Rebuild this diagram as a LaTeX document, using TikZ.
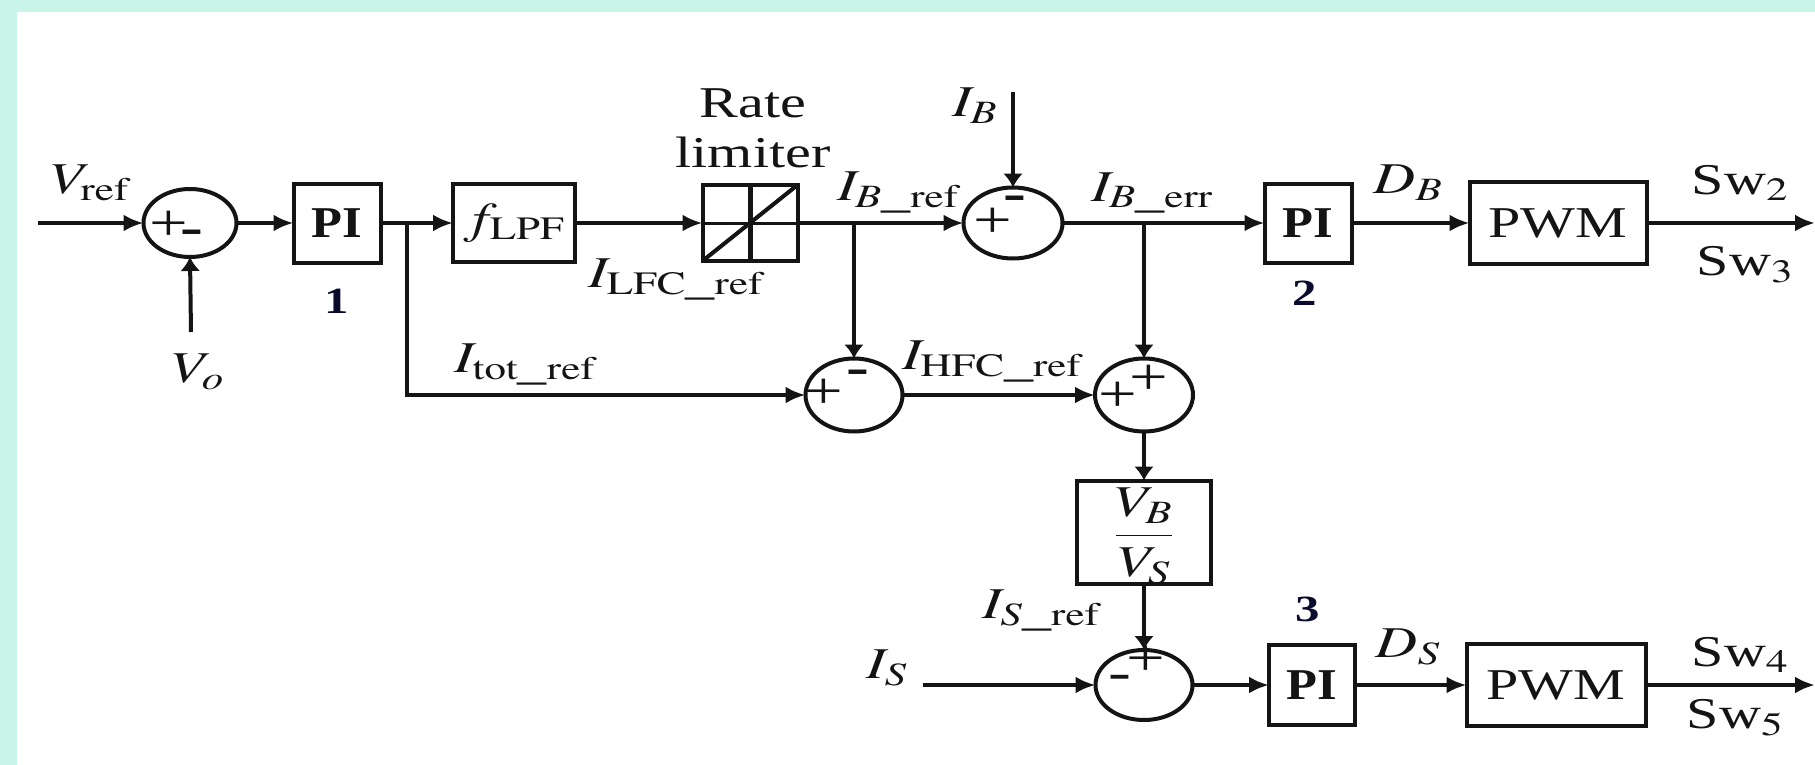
\documentclass[tikz,border=0pt]{standalone}
\usepackage{mathptmx}
\usepackage[no-math]{fontspec}
\setmainfont{Liberation Serif}
\usepackage{graphicx}
\usetikzlibrary{shapes.geometric,arrows.meta}
\definecolor{bgcyan}{RGB}{200,245,232}
\definecolor{ink}{RGB}{20,20,20}
\definecolor{numink}{RGB}{10,10,45}
\newcommand\hs[1]{\scalebox{1.32}[1]{#1}}
\newcommand\hb[1]{\scalebox{1.15}[1]{#1}}
\begin{document}
\begin{tikzpicture}[x=1pt,y=-1pt,
  every node/.style={inner sep=0pt,outer sep=0pt},
  big/.style={font=\fontsize{44}{50}\selectfont},
  lbl/.style={big,text=ink},
  numlbl/.style={font=\fontsize{37}{40}\selectfont\bfseries,text=numink},
  sgn/.style={font=\fontsize{52}{56}\selectfont,text=ink},
  sumnode/.style={ellipse,draw=ink,line width=4pt,fill=white},
  blk/.style={rectangle,draw=ink,line width=4pt,fill=white,big,text=ink},
  conn/.style={draw=ink,line width=4pt},
  harrow/.style={conn,-{Latex[length=20pt,width=17pt]}},
  varrow/.style={conn,-{Latex[length=14pt,width=20pt]}}
]
\useasboundingbox (0,0) rectangle (1815,765);
\fill[white] (0,0) rectangle (1815,765);
\fill[bgcyan] (0,0) rectangle (1815,12);
\fill[bgcyan] (0,0) rectangle (17,765);

% blocks
\node[sumnode,minimum width=93pt,minimum height=68pt] (sum1) at (190,223) {};
\node[blk,minimum width=87pt,minimum height=79pt] (pi1) at (337,223) {\hb{\bfseries PI}};
\node[blk,minimum width=122pt,minimum height=78pt] (lpf) at (514,223) {\hs{$f_{\mathrm{LPF}}$}};
\node[blk,minimum width=95pt,minimum height=76pt] (rate) at (750,223) {};
\node[sumnode,minimum width=99pt,minimum height=71pt] (sum2) at (1013,223) {};
\node[blk,minimum width=87pt,minimum height=79pt] (pi2) at (1308,223) {\hb{\bfseries PI}};
\node[blk,minimum width=177pt,minimum height=82pt] (pwm1) at (1558,223) {\hs{PWM}};
\node[sumnode,minimum width=97pt,minimum height=73pt] (sum3) at (854,395) {};
\node[sumnode,minimum width=98pt,minimum height=73pt] (sum4) at (1144,395) {};
\node[blk,minimum width=134pt,minimum height=103pt] (gain) at (1144,532) {};
\node[lbl] (gaintxt) at (1144,536) {\hs{$\displaystyle\frac{V_B}{V_S}$}};
\node[sumnode,minimum width=97pt,minimum height=70pt] (sum5) at (1144,685) {};
\node[blk,minimum width=86pt,minimum height=80pt] (pi3) at (1312,685) {\hb{\bfseries PI}};
\node[blk,minimum width=179pt,minimum height=82pt] (pwm2) at (1556,685) {\hs{PWM}};

% rate limiter symbol
\draw[ink,line width=3pt] (rate.west) -- (rate.east);
\draw[ink,line width=5pt] (rate.north) -- (rate.south);
\draw[ink,line width=4pt] (rate.south west) -- (rate.north east);

% signs in summing junctions
\node[sgn] (s1p) at (169,226) {\hs{+}};
\node[sgn] (s1m) at (192,237) {\hs{\bfseries -}};
\node[sgn] (s2p) at (993,223) {\hs{+}};
\node[sgn] (s2m) at (1015,203) {\hs{\bfseries -}};
\node[sgn] (s3p) at (824,394) {\hs{+}};
\node[sgn] (s3m) at (858,377) {\hs{\bfseries -}};
\node[sgn] (s4p) at (1118,397) {\hs{+}};
\node[sgn] (s4q) at (1149,380) {\hs{+}};
\node[sgn] (s5p) at (1146,661) {\hs{+}};
\node[sgn] (s5m) at (1120,682) {\hs{-}};

% free ends and branch points
\coordinate (inV) at (38,223);
\coordinate (inVo) at (191,332);
\coordinate (inIB) at (1013,92);
\coordinate (inIS) at (923,685);
\coordinate (out1) at (1815,223);
\coordinate (out2) at (1815,685);
\coordinate (b1) at (407,223);
\coordinate (b1d) at (407,395);
\coordinate (b2) at (854,223);
\coordinate (b3) at (1144,223);

% connectors
\draw[harrow] (inV) -- (sum1.west);
\draw[varrow] (inVo) -- (sum1.south);
\draw[harrow] (sum1.east) -- (pi1.west);
\draw[harrow] (pi1.east) -- (lpf.west);
\draw[harrow] (b1) -- (b1d) -- (sum3.west);
\draw[harrow] (lpf.east) -- (rate.west);
\draw[harrow] (rate.east) -- (sum2.west);
\draw[varrow] (b2) -- (sum3.north);
\draw[varrow] (inIB) -- (sum2.north);
\draw[harrow] (sum2.east) -- (pi2.west);
\draw[varrow] (b3) -- (sum4.north);
\draw[harrow] (sum3.east) -- (sum4.west);
\draw[harrow] (pi2.east) -- (pwm1.west);
\draw[harrow] (pwm1.east) -- (out1);
\draw[varrow] (sum4.south) -- (gain.north);
\draw[varrow] (gain.south) -- (sum5.north);
\draw[harrow] (inIS) -- (sum5.west);
\draw[harrow] (sum5.east) -- (pi3.west);
\draw[harrow] (pi3.east) -- (pwm2.west);
\draw[harrow] (pwm2.east) -- (out2);

% labels
\node[lbl] (lVref) at (90,183) {\hs{$V_{\mathrm{ref}}$}};
\node[lbl] (lVo) at (198,372) {\hs{$V_o$}};
\node[numlbl] (n1) at (337,301) {\hs{1}};
\node[lbl,align=center] (lRate) at (753,128) {\hs{Rate}\\\hs{limiter}};
\node[lbl] (lLFC) at (676,280) {\hs{$I_{\mathrm{LFC\_ref}}$}};
\node[lbl] (lBref) at (898,193) {\hs{$I_{B\_\mathrm{ref}}$}};
\node[lbl] (ltot) at (525,365) {\hs{$I_{\mathrm{tot\_ref}}$}};
\node[lbl] (lIB) at (975,106) {\hs{$I_B$}};
\node[lbl] (lBerr) at (1152,193) {\hs{$I_{B\_\mathrm{err}}$}};
\node[lbl] (lHFC) at (992,362) {\hs{$I_{\mathrm{HFC\_ref}}$}};
\node[numlbl] (n2) at (1305,293) {\hs{2}};
\node[lbl] (lDB) at (1408,183) {\hs{$D_B$}};
\node[lbl] (lSw2) at (1740,183) {\hs{Sw$_2$}};
\node[lbl] (lSw3) at (1745,265) {\hs{Sw$_3$}};
\node[numlbl] (n3) at (1308,609) {\hs{3}};
\node[lbl] (lSref) at (1041,611) {\hs{$I_{S\_\mathrm{ref}}$}};
\node[lbl] (lIS) at (887,668) {\hs{$I_S$}};
\node[lbl] (lDS) at (1408,647) {\hs{$D_S$}};
\node[lbl] (lSw4) at (1740,655) {\hs{Sw$_4$}};
\node[lbl] (lSw5) at (1735,718) {\hs{Sw$_5$}};
\end{tikzpicture}
\end{document}
